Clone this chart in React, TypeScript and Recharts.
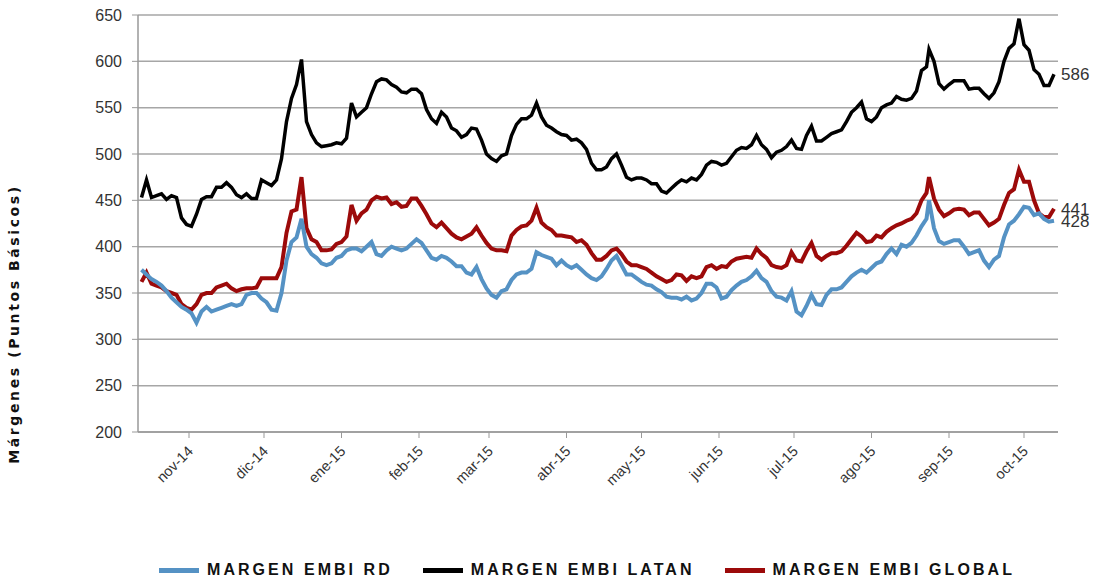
import { LineChart, Line, XAxis, YAxis, CartesianGrid, Legend } from "recharts";

// day offsets counted from 1 Oct 2014
const days = [
  12, 14, 16, 18, 20, 22, 24, 26, 28, 30, 32, 34, 36, 38, 40, 42, 44, 46, 48, 50, 52, 54, 56, 58, 60,
  62, 64, 66, 68, 70, 72, 74, 76, 78, 80, 82, 84, 86, 88, 90, 92, 94, 96, 98, 100, 102, 104, 106, 108, 110, 112,
  114, 116, 118, 120, 122, 124, 126, 128, 130, 132, 134, 136, 138, 140, 142, 144, 146, 148, 150, 152, 154, 156, 158, 160, 162, 164,
  166, 168, 170, 172, 174, 176, 178, 180, 182, 184, 186, 188, 190, 192, 194, 196, 198, 200, 202, 204, 206, 208, 210, 212, 214, 216,
  218, 220, 222, 224, 226, 228, 230, 232, 234, 236, 238, 240, 242, 244, 246, 248, 250, 252, 254, 256, 258, 260, 262, 264, 266,
  268, 270, 272, 274, 276, 278, 280, 282, 284, 286, 288, 290, 292, 294, 296, 298, 300, 302, 304, 306, 308, 310, 312, 314, 316,
  318, 320, 322, 324, 326, 327, 329, 331, 333, 335, 337, 339, 341, 343, 345, 347, 349, 351, 353, 355, 357, 359, 361, 363, 365,
  367, 369, 371, 373, 375, 377,
];

const embiLatan = [
  453, 472, 453, 455, 457, 451, 455, 453, 431, 424, 422, 435, 451, 454, 454, 464, 464, 469, 464, 456, 453, 457, 452, 452, 472,
  469, 466, 472, 495, 535, 560, 575, 602, 535, 521, 512, 508, 509, 510, 512, 511, 517, 555, 540, 545, 550, 565, 578, 581, 580, 575,
  572, 567, 566, 570, 570, 565, 548, 538, 533, 545, 540, 528, 525, 518, 521, 528, 527, 515, 500, 495, 492, 498, 500, 520, 532, 538,
  538, 542, 555, 540, 531, 528, 524, 521, 520, 515, 516, 512, 505, 490, 483, 483, 486, 495, 500, 488, 475, 472, 474, 474, 472, 468,
  468, 460, 458, 463, 468, 472, 470, 474, 472, 478, 488, 492, 491, 488, 490, 497, 504, 507, 506, 510, 520, 510, 505, 496, 502,
  504, 508, 515, 506, 505, 520, 530, 514, 514, 518, 522, 524, 526, 535, 545, 550, 556, 538, 535, 540, 550, 553, 555, 562, 559,
  558, 560, 568, 590, 594, 613, 600, 576, 570, 575, 579, 579, 579, 570, 571, 571, 565, 560, 566, 578, 600, 614, 619, 646, 618,
  612, 591, 586, 574, 574, 586,
];

const embiGlobal = [
  362, 372, 360, 358, 356, 352, 350, 348, 338, 334, 332, 338, 348, 350, 350, 356, 358, 360, 355, 352, 354, 355, 355, 356, 366,
  366, 366, 366, 378, 415, 438, 440, 475, 420, 408, 405, 396, 396, 397, 403, 405, 411, 445, 428, 436, 440, 450, 454, 452, 453, 446,
  448, 443, 444, 452, 452, 444, 435, 425, 421, 426, 420, 414, 410, 408, 411, 414, 421, 412, 404, 398, 396, 396, 395, 412, 418, 422,
  423, 428, 442, 426, 421, 418, 412, 412, 411, 410, 405, 407, 402, 393, 386, 386, 390, 396, 398, 392, 384, 380, 380, 378, 376, 372,
  368, 365, 362, 364, 370, 369, 363, 368, 366, 368, 378, 380, 376, 379, 378, 384, 387, 388, 389, 388, 398, 392, 388, 380, 378,
  377, 380, 394, 385, 384, 395, 404, 390, 386, 390, 393, 393, 395, 401, 408, 415, 411, 405, 406, 412, 410, 416, 420, 423, 425,
  428, 430, 436, 450, 458, 475, 452, 440, 433, 436, 440, 441, 440, 434, 437, 437, 430, 423, 426, 430, 445, 458, 462, 483, 470,
  470, 450, 436, 432, 432, 441,
];

const embiRd = [
  375, 370, 365, 362, 358, 352, 345, 340, 335, 332, 328, 318, 330, 335, 330, 332, 334, 336, 338, 336, 338, 348, 350, 350, 344,
  340, 332, 331, 350, 385, 405, 410, 430, 400, 392, 388, 382, 380, 382, 388, 390, 396, 398, 398, 395, 400, 405, 392, 390, 396, 400,
  398, 396, 398, 403, 408, 404, 396, 388, 386, 390, 388, 384, 379, 379, 372, 370, 378, 365, 355, 348, 345, 352, 354, 364, 370, 372,
  372, 376, 394, 391, 389, 387, 380, 385, 380, 377, 380, 375, 370, 366, 364, 368, 376, 385, 390, 380, 370, 370, 366, 362, 359, 358,
  354, 351, 346, 345, 345, 343, 346, 342, 344, 350, 360, 360, 356, 344, 346, 353, 358, 362, 364, 368, 374, 366, 362, 352, 346,
  345, 342, 352, 330, 326, 336, 348, 338, 337, 348, 354, 354, 356, 362, 368, 372, 375, 372, 377, 382, 384, 392, 398, 392, 402,
  400, 404, 412, 422, 430, 450, 420, 406, 403, 405, 407, 407, 400, 392, 394, 396, 385, 378, 386, 390, 410, 424, 428, 435, 443,
  442, 434, 436, 430, 427, 428,
];

const monthTicks = [31, 61, 92, 123, 151, 182, 212, 243, 273, 304, 335, 365];
const monthLabels = ["nov-14", "dic-14", "ene-15", "feb-15", "mar-15", "abr-15", "may-15", "jun-15", "jul-15", "ago-15", "sep-15", "oct-15"];
const yTicks = [200, 250, 300, 350, 400, 450, 500, 550, 600, 650];

const seriesNames = ["MARGEN EMBI RD", "MARGEN EMBI LATAN", "MARGEN EMBI GLOBAL"];
const seriesColors = ["#5592c4", "#000000", "#9c0a0a"];

const chartData = days.map((d, i) => ({
  day: d,
  rd: embiRd[i],
  latan: embiLatan[i],
  global: embiGlobal[i],
}));

const lastIndex = days.length - 1;
const textColor = "#333";

// only the last point of each series gets its value printed
function endLabel(props: any) {
  if (props.index !== lastIndex) return null;
  return (
    <text x={props.x + 7} y={props.y} dy={6} fontSize={17} fill={textColor} fontFamily="Liberation Sans, Arial">
      {props.value}
    </text>
  );
}

function MonthTick(props: any) {
  const { x, y, payload } = props;
  const label = monthLabels[monthTicks.indexOf(payload.value)];
  const tx = x + 5;
  const ty = y + 12;
  return (
    <text
      x={tx}
      y={ty}
      transform={`rotate(-45, ${tx}, ${ty})`}
      textAnchor="end"
      fontSize={14.5}
      fill={textColor}
      fontFamily="Liberation Sans, Arial"
    >
      {label}
    </text>
  );
}

function AxisTitle() {
  return (
    <text
      x={14}
      y={324}
      transform="rotate(-90, 14, 324)"
      textAnchor="middle"
      dominantBaseline="central"
      fontSize={14}
      fontWeight="bold"
      letterSpacing={2.6}
      fill="#111"
      fontFamily="DejaVu Sans, Verdana"
    >
      Márgenes (Puntos Básicos)
    </text>
  );
}

function LegendRow() {
  return (
    <div style={{ display: "flex", justifyContent: "center", gap: 30, paddingTop: 20, paddingLeft: 116 }}>
      {seriesNames.map((name, i) => (
        <div key={name} style={{ display: "flex", alignItems: "center" }}>
          <span style={{ display: "inline-block", width: 40, height: 5, background: seriesColors[i], marginRight: 8 }} />
          <span
            style={{
              fontFamily: "Liberation Sans, Arial",
              fontWeight: "bold",
              fontSize: 16,
              letterSpacing: 3.05,
              color: "#111",
              lineHeight: "18px",
            }}
          >
            {name}
          </span>
        </div>
      ))}
    </div>
  );
}

export default function App() {
  return (
    <div style={{ position: "absolute", left: 0, top: 0, width: 1098, height: 581, background: "#fff" }}>
      <LineChart width={1098} height={581} data={chartData} margin={{ top: 15, right: 40, bottom: 0, left: 0 }}>
        <CartesianGrid vertical={false} stroke="#a6a6a6" strokeWidth={1.5} />
        <XAxis
          dataKey="day"
          type="number"
          domain={[10.6, 378.6]}
          ticks={monthTicks}
          interval={0}
          height={109}
          tickSize={6}
          tickMargin={2}
          tick={<MonthTick />}
          stroke="#999"
          axisLine={{ stroke: "#999", strokeWidth: 1.5 }}
          allowDataOverflow
        />
        <YAxis
          domain={[200, 650]}
          ticks={yTicks}
          interval={0}
          width={138}
          tickSize={6}
          tickMargin={10}
          stroke="#999"
          axisLine={{ stroke: "#999", strokeWidth: 1.5 }}
          tick={{ fontSize: 16, fill: textColor, fontFamily: "Liberation Sans, Arial" }}
          label={<AxisTitle />}
        />
        <Legend verticalAlign="bottom" height={40} content={<LegendRow />} />
        <Line
          type="linear"
          dataKey="latan"
          stroke={seriesColors[1]}
          strokeWidth={3.5}
          dot={false}
          isAnimationActive={false}
          label={endLabel}
        />
        <Line
          type="linear"
          dataKey="global"
          stroke={seriesColors[2]}
          strokeWidth={4}
          dot={false}
          isAnimationActive={false}
          label={endLabel}
        />
        <Line
          type="linear"
          dataKey="rd"
          stroke={seriesColors[0]}
          strokeWidth={4}
          dot={false}
          isAnimationActive={false}
          label={endLabel}
        />
      </LineChart>
    </div>
  );
}
